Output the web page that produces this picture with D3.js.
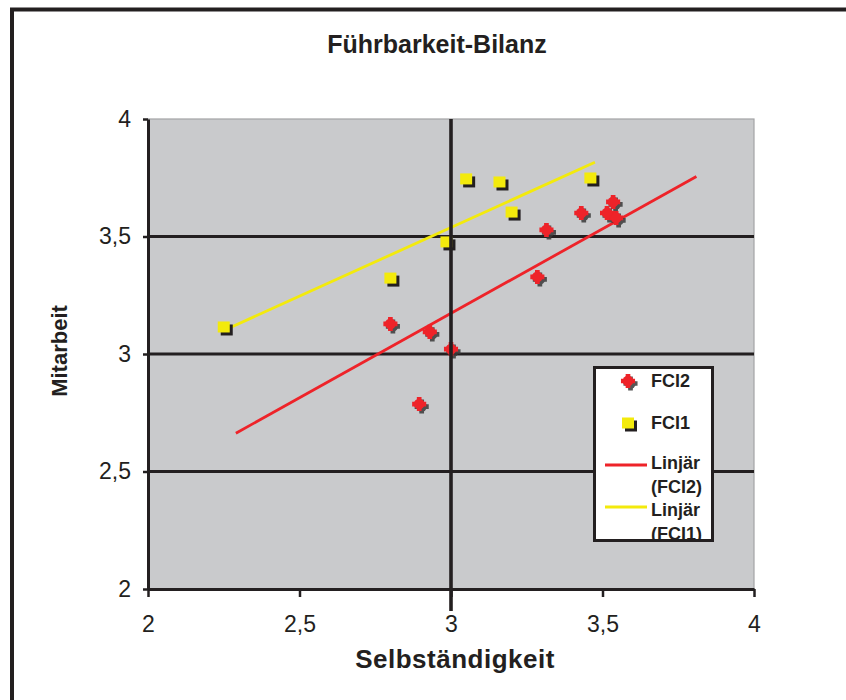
<!DOCTYPE html>
<html>
<head>
<meta charset="utf-8">
<script src="https://cdn.jsdelivr.net/npm/d3@7"></script>
<style>
  html, body { margin: 0; padding: 0; background: #fff; }
  svg { display: block; font-family: "Liberation Sans", Arial, sans-serif; }
</style>
</head>
<body>
<svg id="chart" width="846" height="700"></svg>
<script>
// Führbarkeit-Bilanz: Selbständigkeit (x) vs. Mitarbeit (y)
const chartTitle = "Führbarkeit-Bilanz";
const xTitle = "Selbständigkeit";
const yTitle = "Mitarbeit";

const tickValues = [2, 2.5, 3, 3.5, 4];
const tickLabels = ["2", "2,5", "3", "3,5", "4"];
const gridValues = [2.5, 3, 3.5];
const crossValue = 3;

// Series FCI2 (red stars)
const fci2X = [2.80, 2.93, 3.00, 2.895, 3.315, 3.43, 3.535, 3.515, 3.545, 3.285];
const fci2Y = [3.128, 3.094, 3.021, 2.787, 3.528, 3.600, 3.647, 3.600, 3.579, 3.328];

// Series FCI1 (yellow squares)
const fci1X = [2.25, 2.80, 2.985, 3.05, 3.16, 3.20, 3.46];
const fci1Y = [3.115, 3.323, 3.477, 3.745, 3.732, 3.604, 3.749];

// Linear trend lines (start / end)
const trendFci2X = [2.29, 3.81];
const trendFci2Y = [2.663, 3.755];
const trendFci1X = [2.25, 3.475];
const trendFci1Y = [3.10, 3.816];

const legendLabels = ["FCI2", "FCI1", ["Linjär", "(FCI2)"], ["Linjär", "(FCI1)"]];

const RED = "#ee2329", YELLOW = "#f3ea0c", INK = "#231f20", PLOT_BG = "#c9cacc";

const svg = d3.select("#chart");
const W = 846, H = 700;
const plot = { left: 148, right: 754, top: 119, bottom: 589 };

svg.append("rect").attr("width", W).attr("height", H).attr("fill", "#fff");

// outer chart frame (runs off the right and bottom)
svg.append("rect")
  .attr("x", 12).attr("y", 9.5).attr("width", 900).attr("height", 800)
  .attr("fill", "none").attr("stroke", INK).attr("stroke-width", 4);

const x = d3.scaleLinear().domain([2, 4]).range([plot.left, plot.right]);
const y = d3.scaleLinear().domain([2, 4]).range([plot.bottom, plot.top]);

// plot area
svg.append("rect")
  .attr("x", plot.left).attr("y", plot.top)
  .attr("width", plot.right - plot.left).attr("height", plot.bottom - plot.top)
  .attr("fill", PLOT_BG).attr("stroke", "#a3a3a5").attr("stroke-width", 1.2);

// horizontal gridlines
svg.append("g").selectAll("line").data(gridValues).join("line")
  .attr("x1", plot.left).attr("x2", plot.right)
  .attr("y1", d => y(d)).attr("y2", d => y(d))
  .attr("stroke", INK).attr("stroke-width", 3);

// title
svg.append("text")
  .attr("x", 437).attr("y", 53).attr("text-anchor", "middle")
  .attr("font-size", 25).attr("font-weight", "bold").attr("fill", INK)
  .text(chartTitle);

// axes
const xAxis = d3.axisBottom(x).tickValues(tickValues)
  .tickFormat((d, i) => tickLabels[i]).tickSize(8).tickSizeOuter(0).tickPadding(19);
const yAxis = d3.axisLeft(y).tickValues(tickValues)
  .tickFormat((d, i) => tickLabels[i]).tickSize(5).tickSizeOuter(0).tickPadding(12);

const gx = svg.append("g").attr("transform", `translate(0,${plot.bottom})`).call(xAxis);
const gy = svg.append("g").attr("transform", `translate(${plot.left},0)`).call(yAxis);
[gx, gy].forEach(g => {
  g.select(".domain").attr("stroke", INK).attr("stroke-width", 3);
  g.selectAll(".tick line").attr("stroke", INK).attr("stroke-width", 2.5);
  g.selectAll(".tick text").attr("fill", INK)
    .attr("font-size", 23).attr("font-family", "'Liberation Sans', Arial, sans-serif");
});

// axis titles
svg.append("text")
  .attr("x", 455).attr("y", 668).attr("text-anchor", "middle")
  .attr("font-size", 26).attr("font-weight", "bold").attr("letter-spacing", 0.5).attr("fill", INK)
  .text(xTitle);
svg.append("text")
  .attr("transform", `translate(67,351) rotate(-90)`).attr("text-anchor", "middle")
  .attr("font-size", 22).attr("font-weight", "bold").attr("fill", INK)
  .text(yTitle);

// trend lines
const lineGen = d3.line().x(d => x(d[0])).y(d => y(d[1]));
svg.append("path").datum(d3.zip(trendFci1X, trendFci1Y))
  .attr("d", lineGen).attr("fill", "none").attr("stroke", YELLOW).attr("stroke-width", 2.8);
svg.append("path").datum(d3.zip(trendFci2X, trendFci2Y))
  .attr("d", lineGen).attr("fill", "none").attr("stroke", RED).attr("stroke-width", 2.8);

// markers
const crossPath = d3.symbol(d3.symbolCross).size(110)();
function drawStar(g, cx, cy) {
  const s = g.append("g").attr("transform", `translate(${cx},${cy})`);
  const sh = s.append("g").attr("transform", "translate(2.5,2.5)").attr("fill", "#3a3a3a").attr("opacity", 0.85);
  sh.append("path").attr("d", crossPath);
  sh.append("circle").attr("r", 5.2);
  const fg = s.append("g").attr("fill", RED);
  fg.append("path").attr("d", crossPath);
  fg.append("circle").attr("r", 5.4);
}
function drawSquare(g, cx, cy) {
  const s = g.append("g").attr("transform", `translate(${cx},${cy})`);
  s.append("rect").attr("x", -6 + 3).attr("y", -5.5 + 3).attr("width", 12).attr("height", 11).attr("fill", INK);
  s.append("rect").attr("x", -6).attr("y", -5.5).attr("width", 12).attr("height", 11).attr("fill", YELLOW);
}

const gMarks = svg.append("g");
d3.zip(fci1X, fci1Y).forEach(d => drawSquare(gMarks, x(d[0]), y(d[1])));
d3.zip(fci2X, fci2Y).forEach(d => drawStar(gMarks, x(d[0]), y(d[1])));

// vertical reference line at Selbständigkeit = 3
svg.append("line")
  .attr("x1", x(crossValue)).attr("x2", x(crossValue))
  .attr("y1", plot.top).attr("y2", plot.bottom + 22)
  .attr("stroke", INK).attr("stroke-width", 3.6);

// legend
const lg = { x: 594.5, y: 367.5, w: 118, h: 173 };
svg.append("clipPath").attr("id", "legclip").append("rect")
  .attr("x", lg.x).attr("y", lg.y).attr("width", lg.w).attr("height", lg.h);
const leg = svg.append("g");
leg.append("rect").attr("x", lg.x).attr("y", lg.y).attr("width", lg.w).attr("height", lg.h)
  .attr("fill", "#fff");
const legText = leg.append("g").attr("clip-path", "url(#legclip)")
  .attr("font-size", 18).attr("font-weight", "bold").attr("fill", INK);

drawStar(leg, 628, 381);
legText.append("text").attr("x", 651).attr("y", 387).text(legendLabels[0]);
drawSquare(leg, 628, 423);
legText.append("text").attr("x", 651).attr("y", 429).text(legendLabels[1]);

leg.append("line").attr("x1", 605).attr("x2", 647).attr("y1", 465).attr("y2", 465)
  .attr("stroke", RED).attr("stroke-width", 2.8);
legText.append("text").attr("x", 651).attr("y", 469).text(legendLabels[2][0]);
legText.append("text").attr("x", 651).attr("y", 493).text(legendLabels[2][1]);

leg.append("line").attr("x1", 605).attr("x2", 647).attr("y1", 507).attr("y2", 507)
  .attr("stroke", YELLOW).attr("stroke-width", 2.8);
legText.append("text").attr("x", 651).attr("y", 516).text(legendLabels[3][0]);
legText.append("text").attr("x", 651).attr("y", 540).text(legendLabels[3][1]);

leg.append("rect").attr("x", lg.x).attr("y", lg.y).attr("width", lg.w).attr("height", lg.h)
  .attr("fill", "none").attr("stroke", INK).attr("stroke-width", 3);
</script>
</body>
</html>
